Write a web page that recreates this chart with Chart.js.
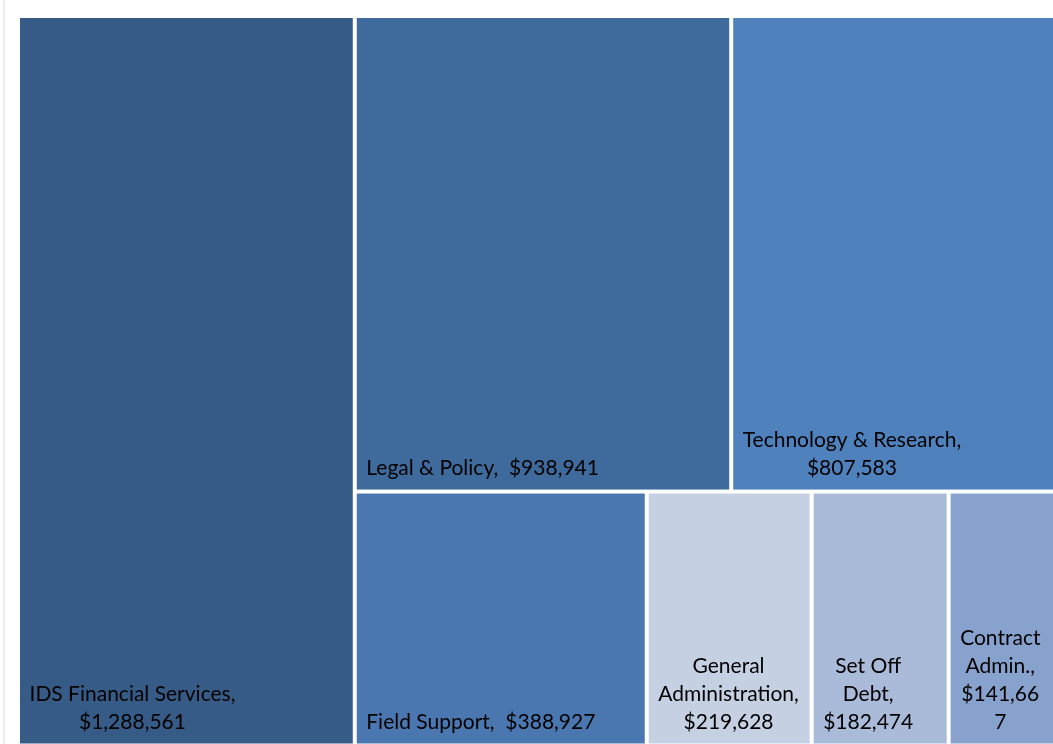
<!DOCTYPE html>
<html>
<head>
<meta charset="utf-8">
<title>Budget by Division</title>
<script src="https://cdn.jsdelivr.net/npm/chart.js@4.4.1/dist/chart.umd.min.js"></script>
<style>
  html, body { margin: 0; padding: 0; background: #fff; overflow: hidden; }
  #wrap { position: relative; width: 1060px; height: 750px; }
</style>
</head>
<body>
<div id="wrap"><canvas id="treemap"></canvas></div>
<script>
// Divisions and budget amounts
const divisions = ['IDS Financial Services', 'Legal & Policy', 'Technology & Research', 'Field Support',
                   'General Administration', 'Set Off Debt', 'Contract Admin.'];
const amounts = [1288561, 938941, 807583, 388927, 219628, 182474, 141667];
const cellColors = ['#365b87', '#3f6a9c', '#4f81bd', '#4a77af', '#c5d0e3', '#aabad9', '#87a2cd'];

// Grouping of the cells (indices into the arrays above): left column, then two strips
const layoutTree = { dir: 'row', items: [0, { dir: 'col', items: [
    { dir: 'row', items: [1, 2] },
    { dir: 'row', items: [3, 4, 5, 6] }
]}]};

const LABEL_FONT = '21px Lato';
const PAD = 9.5;
const LINE_H = 27.7;
const GAP = 2;

function sumOf(node) {
    return typeof node === 'number' ? amounts[node] : node.items.reduce((s, n) => s + sumOf(n), 0);
}

// Split each group proportionally to its values, in value space (0..1)
function place(node, x0, y0, x1, y1, out) {
    if (typeof node === 'number') {
        out[node] = { x0, y0, x1, y1 };
        return out;
    }
    const total = sumOf(node);
    let pos = node.dir === 'row' ? x0 : y0;
    node.items.forEach(child => {
        const frac = sumOf(child) / total;
        if (node.dir === 'row') {
            const next = pos + (x1 - x0) * frac;
            place(child, pos, y0, next, y1, out);
            pos = next;
        } else {
            const next = pos + (y1 - y0) * frac;
            place(child, x0, pos, x1, next, out);
            pos = next;
        }
    });
    return out;
}

const cellRects = place(layoutTree, 0, 0, 1, 1, []);

function formatMoney(v) {
    return '$' + v.toLocaleString('en-US');
}

// Word wrap, breaking single words by characters if needed
function wrapLabel(ctx, text, maxWidth) {
    const words = text.split(' ');
    const lines = [];
    let line = '';
    words.forEach(word => {
        const test = line === '' ? word : line + ' ' + word;
        if (line === '' || ctx.measureText(test.trim()).width <= maxWidth) {
            line = test;
        } else {
            lines.push(line.trim());
            line = word;
        }
    });
    if (line.trim() !== '') lines.push(line.trim());

    const result = [];
    lines.forEach(l => {
        if (ctx.measureText(l).width <= maxWidth) { result.push(l); return; }
        let part = '';
        for (const ch of l) {
            if (part !== '' && ctx.measureText(part + ch).width > maxWidth) {
                result.push(part);
                part = ch;
            } else {
                part += ch;
            }
        }
        if (part !== '') result.push(part);
    });
    return result;
}

const treemapCells = {
    id: 'treemapCells',
    beforeDraw(chart) {
        const ctx = chart.ctx;
        ctx.save();
        ctx.fillStyle = '#fff';
        ctx.fillRect(0, 0, chart.width, chart.height);
        ctx.strokeStyle = '#d9d9d9';
        ctx.lineWidth = 1;
        ctx.beginPath();
        ctx.moveTo(4, 0);
        ctx.lineTo(4, chart.height);
        ctx.stroke();
        ctx.restore();
    },
    afterDatasetsDraw(chart) {
        const { ctx, scales: { x, y } } = chart;
        ctx.save();
        cellRects.forEach((r, i) => {
            const left = x.getPixelForValue(r.x0) + GAP;
            const right = x.getPixelForValue(r.x1) - GAP;
            const top = y.getPixelForValue(r.y0) + GAP;
            const bottom = y.getPixelForValue(r.y1) - GAP;
            ctx.fillStyle = cellColors[i];
            ctx.fillRect(left, top, right - left, bottom - top);

            ctx.font = LABEL_FONT;
            ctx.fillStyle = '#000';
            ctx.textAlign = 'center';
            ctx.textBaseline = 'alphabetic';
            const label = divisions[i] + ',  ' + formatMoney(amounts[i]);
            const lines = wrapLabel(ctx, label, right - left - 2 * PAD);
            const blockW = Math.max(...lines.map(l => ctx.measureText(l).width));
            const cx = left + PAD + blockW / 2;
            lines.forEach((l, k) => {
                const base = bottom - 15 - (lines.length - 1 - k) * LINE_H;
                ctx.fillText(l, cx, base);
            });
        });
        ctx.restore();
    }
};

function drawChart() {
    const ctx = document.getElementById('treemap').getContext('2d');
    new Chart(ctx, {
        type: 'scatter',
        data: { datasets: [{ label: 'Budget', data: [] }] },
        options: {
            animation: false,
            responsive: true,
            maintainAspectRatio: false,
            layout: { padding: { left: 18, top: 16, right: 5, bottom: 4.5 } },
            scales: {
                x: { type: 'linear', min: 0, max: 1, display: false },
                y: { type: 'linear', min: 0, max: 1, display: false, reverse: true }
            },
            plugins: {
                legend: { display: false },
                tooltip: { enabled: false }
            }
        },
        plugins: [treemapCells]
    });
}

if (document.fonts && document.fonts.load) {
    document.fonts.load(LABEL_FONT).then(drawChart, drawChart);
} else {
    drawChart();
}
</script>
</body>
</html>
